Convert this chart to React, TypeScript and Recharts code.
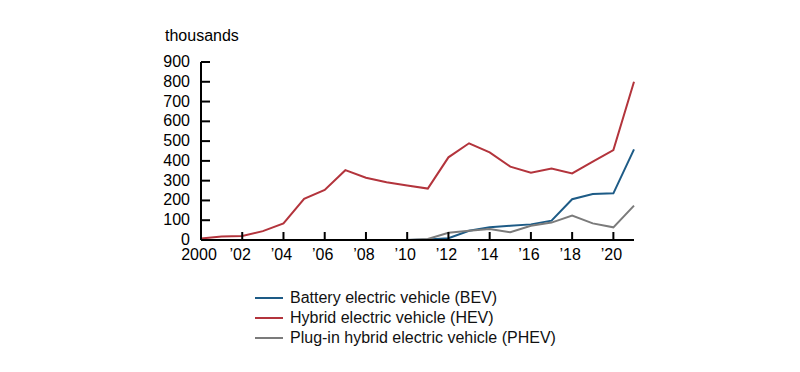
import { LineChart, Line, XAxis, YAxis } from "recharts";

const years = [2000, 2001, 2002, 2003, 2004, 2005, 2006, 2007, 2008, 2009, 2010, 2011, 2012, 2013, 2014, 2015, 2016, 2017, 2018, 2019, 2020, 2021];
const bev = [0, 0, 0, 0, 0, 0, 0, 0, 0, 0, 0, 2, 9, 47, 64, 72, 79, 98, 206, 232, 236, 458];
const hev = [8, 18, 20, 45, 84, 208, 253, 353, 315, 292, 275, 260, 418, 489, 443, 371, 340, 362, 337, 396, 455, 800];
const phev = [0, 0, 0, 0, 0, 0, 0, 0, 0, 0, 0, 5, 37, 47, 56, 39, 72, 88, 123, 84, 64, 174];

const xTicks = [2000, 2002, 2004, 2006, 2008, 2010, 2012, 2014, 2016, 2018, 2020];
const yTicks = [0, 100, 200, 300, 400, 500, 600, 700, 800, 900];

const series = [
  { key: "bev", name: "Battery electric vehicle (BEV)", color: "#1d5b86" },
  { key: "hev", name: "Hybrid electric vehicle (HEV)", color: "#b3343c" },
  { key: "phev", name: "Plug-in hybrid electric vehicle (PHEV)", color: "#7b7b7b" },
];

const data = years.map((y, i) => ({ year: y, bev: bev[i], hev: hev[i], phev: phev[i] }));

const font = "'Liberation Sans', Arial, sans-serif";

const fmtYear = (y: number) => (y === 2000 ? "2000" : "\u2019" + String(y).slice(2));

function XTick({ x, y, payload }: any) {
  return (
    <g>
      <line x1={x} x2={x} y1={y - 8} y2={y} stroke="#000" strokeWidth={2} />
      <text x={x - 2} y={y + 20} textAnchor="middle" fontSize={16} fontFamily={font} fill="#000">
        {fmtYear(payload.value)}
      </text>
    </g>
  );
}

function YTick({ x, y, payload }: any) {
  return (
    <g>
      <line x1={x + 11} x2={x + 20} y1={y} y2={y} stroke="#000" strokeWidth={2} />
      <text x={x} y={y + 5} textAnchor="end" fontSize={16} fontFamily={font} fill="#000">
        {payload.value}
      </text>
    </g>
  );
}

function LegendBox() {
  return (
    <div style={{ position: "absolute", left: 255, top: 288, fontFamily: font, fontSize: 16, color: "#111" }}>
      {series.map((s) => (
        <div key={s.key} style={{ display: "flex", alignItems: "center", height: 20 }}>
          <span style={{ display: "inline-block", width: 28, height: 2, background: s.color, marginRight: 7 }} />
          <span>{s.name}</span>
        </div>
      ))}
    </div>
  );
}

export default function App() {
  return (
    <div style={{ position: "fixed", left: 0, top: 0, width: 800, height: 372, background: "#fff" }}>
      <div style={{ position: "absolute", left: 165, top: 27, fontFamily: font, fontSize: 16, color: "#000" }}>
        thousands
      </div>
      <LineChart width={800} height={372} data={data} margin={{ top: 62, right: 166, bottom: 102, left: 0 }}>
        <XAxis
          dataKey="year"
          type="number"
          domain={[2000, 2021]}
          ticks={xTicks}
          tick={<XTick />}
          tickLine={false}
          tickSize={0}
          tickMargin={0}
          axisLine={{ stroke: "#000", strokeWidth: 2 }}
          height={30}
          interval={0}
        />
        <YAxis
          domain={[0, 900]}
          ticks={yTicks}
          tick={<YTick />}
          tickLine={false}
          tickSize={0}
          tickMargin={11}
          axisLine={{ stroke: "#000", strokeWidth: 2 }}
          width={201}
          interval={0}
        />
        {series.map((s) => (
          <Line
            key={s.key}
            dataKey={s.key}
            name={s.name}
            stroke={s.color}
            strokeWidth={2}
            dot={false}
            type="linear"
            isAnimationActive={false}
          />
        ))}
      </LineChart>
      <LegendBox />
    </div>
  );
}
